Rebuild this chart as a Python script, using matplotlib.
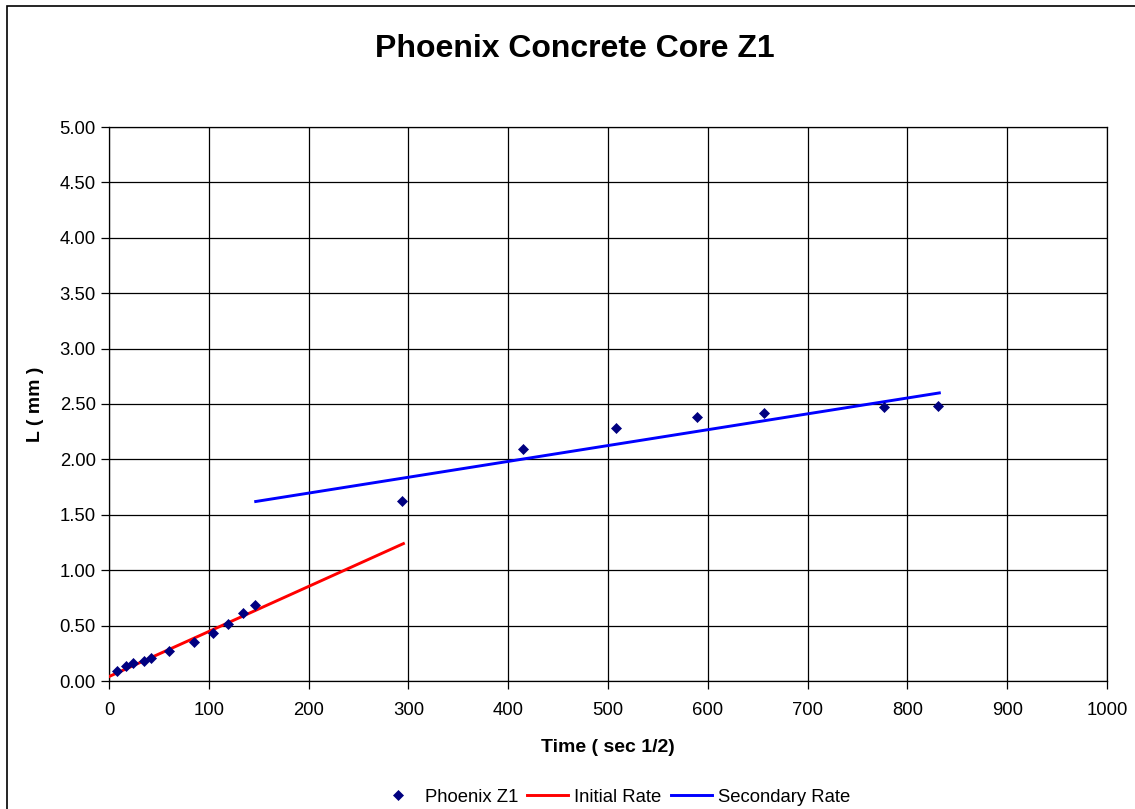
import matplotlib
matplotlib.use("Agg")
import matplotlib.pyplot as plt
from matplotlib.patches import Rectangle

plt.rcParams["font.family"] = ["Liberation Sans", "DejaVu Sans"]

# measured data (time in sec^1/2, L in mm)
time_sqrt = [8, 17, 24, 35, 42, 60, 85, 104, 119, 134, 146,
             294, 415, 508, 589, 656, 777, 831]
length_mm = [0.09, 0.135, 0.16, 0.18, 0.21, 0.27, 0.355, 0.43, 0.51, 0.61, 0.685,
             1.625, 2.09, 2.285, 2.38, 2.42, 2.47, 2.48]

# fitted rate lines (end points)
initial_x = [0, 295]
initial_y = [0.04, 1.24]
secondary_x = [147, 832]
secondary_y = [1.62, 2.60]

x_ticks = list(range(0, 1001, 100))
y_ticks = [i * 0.5 for i in range(11)]

fig = plt.figure(figsize=(11.35, 8.09), dpi=100)
ax = fig.add_axes([109 / 1135, 1 - 681 / 809, 998 / 1135, 554 / 809])

ax.plot(time_sqrt, length_mm, linestyle="none", marker="D", markersize=4.7,
        color="#000080", markeredgewidth=0.5, label="Phoenix Z1", zorder=4)
ax.plot(initial_x, initial_y, color="#FF0000", lw=2.1, label="Initial Rate", zorder=3)
ax.plot(secondary_x, secondary_y, color="#0000FF", lw=2.1, label="Secondary Rate", zorder=3)

ax.set_xlim(0, 1000)
ax.set_ylim(0, 5)
ax.set_xticks(x_ticks)
ax.set_yticks(y_ticks)
ax.set_yticklabels([f"{v:.2f}" for v in y_ticks])
ax.grid(True, color="black", lw=0.9)
ax.set_axisbelow(True)
for s in ax.spines.values():
    s.set_color("black")
    s.set_linewidth(0.9)
ax.tick_params(direction="out", length=6, width=0.9, labelsize=13.3)
ax.tick_params(axis="x", pad=9)
ax.tick_params(axis="y", pad=3.5)

ax.set_xlabel("Time ( sec 1/2)", fontsize=14, fontweight="bold", labelpad=14.5)
ax.set_ylabel("L ( mm )", fontsize=14, fontweight="bold", labelpad=11)

fig.text(575 / 1135, 1 - 56.7 / 809, "Phoenix Concrete Core Z1", fontsize=23,
         fontweight="bold", ha="center", va="baseline")

fig.legend(loc="center", bbox_to_anchor=(614 / 1135, 1 - 797 / 809), ncol=3,
           frameon=False, fontsize=13.3, handlelength=2.2, handletextpad=0.35,
           columnspacing=0.5, borderaxespad=0)

# outer chart border (only top and left edges fall inside the image)
fig.add_artist(Rectangle((7 / 1135, -0.2), 1.5, 1.2 - 6 / 809, transform=fig.transFigure,
                         fill=False, edgecolor="black", lw=1.2))

fig.savefig("out.png", dpi=100, facecolor="white")
